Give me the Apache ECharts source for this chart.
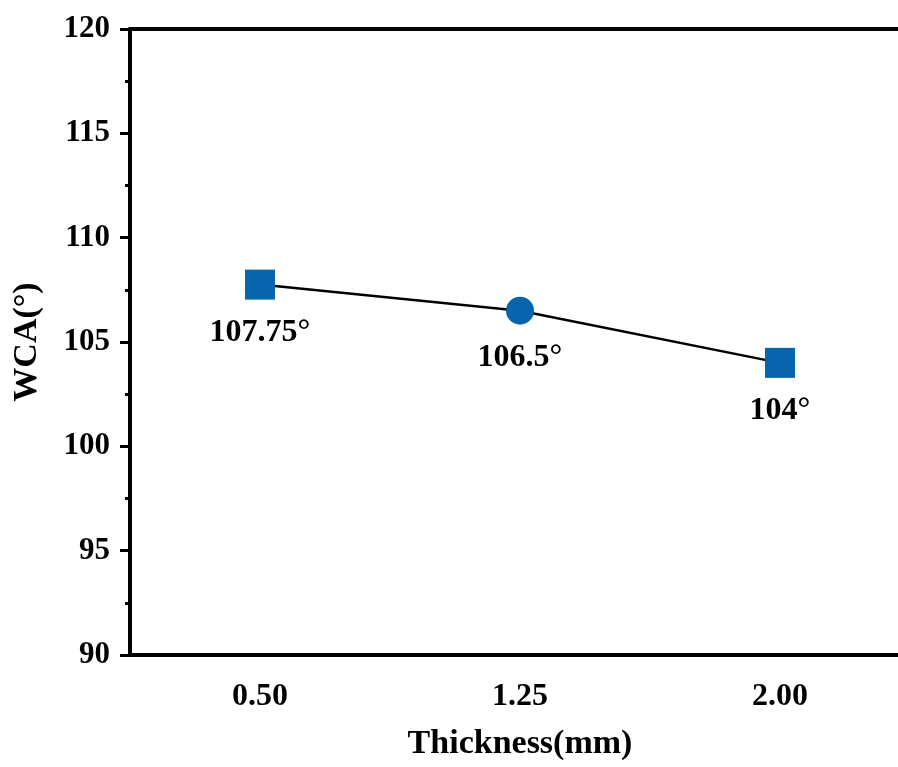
<!DOCTYPE html>
<html>
<head>
<meta charset="utf-8">
<script src="https://cdn.jsdelivr.net/npm/echarts@6/dist/echarts.min.js"></script>
<style>
  html, body { margin: 0; padding: 0; background: #fff; overflow: hidden; }
  /* 画布比窗口略宽：原图右边框被裁掉 */
  #chart { width: 910px; height: 767px; }
</style>
</head>
<body>
<div id="chart"></div>
<script>
// 数据
const thickness = ['0.50', '1.25', '2.00'];
const wca = [107.75, 106.5, 104];
const pointSymbols = ['rect', 'circle', 'rect'];
const pointLabels = ['107.75°', '106.5°', '104°'];

const FONT = '"Liberation Serif", "Times New Roman", serif';
const BLUE = '#0765ad';

const chart = echarts.init(document.getElementById('chart'));

const seriesData = wca.map((v, i) => ({
  value: v,
  symbol: pointSymbols[i],
  symbolSize: pointSymbols[i] === 'rect' ? 30 : 28,
  label: { formatter: pointLabels[i] }
}));

const option = {
  backgroundColor: '#fff',
  animation: false,
  grid: { left: 130, right: 0, top: 29, bottom: 112 },
  xAxis: [
    {
      type: 'category',
      data: thickness,
      boundaryGap: true,
      name: 'Thickness(mm)',
      nameLocation: 'middle',
      nameGap: 72,
      nameTextStyle: { fontFamily: FONT, fontWeight: 'bold', fontSize: 34, color: '#000' },
      axisLine: { lineStyle: { color: '#000', width: 4 } },
      axisTick: { alignWithLabel: true, length: 11, lineStyle: { width: 3, color: '#000' } },
      axisLabel: { fontFamily: FONT, fontWeight: 'bold', fontSize: 32, color: '#000', margin: 26 },
      splitLine: { show: false }
    },
    {
      type: 'category',
      data: thickness,
      position: 'top',
      axisLine: { lineStyle: { color: '#000', width: 4 } },
      axisTick: { show: false },
      axisLabel: { show: false }
    }
  ],
  yAxis: {
    type: 'value',
    min: 90,
    max: 120,
    interval: 5,
    name: 'WCA(°)',
    nameLocation: 'middle',
    nameGap: 86,
    nameRotate: 90,
    nameTextStyle: { fontFamily: FONT, fontWeight: 'bold', fontSize: 34, color: '#000' },
    axisLine: { show: true, lineStyle: { color: '#000', width: 4 } },
    axisTick: { show: true, length: 10, lineStyle: { width: 3, color: '#000' } },
    minorTick: { show: true, splitNumber: 2, length: 5, lineStyle: { width: 3, color: '#000' } },
    axisLabel: { fontFamily: FONT, fontWeight: 'bold', fontSize: 31, color: '#000', margin: 20 },
    splitLine: { show: false }
  },
  series: [
    {
      type: 'line',
      data: seriesData,
      lineStyle: { color: '#000', width: 2.5 },
      itemStyle: { color: BLUE, borderWidth: 0 },
      label: {
        show: true,
        position: 'bottom',
        distance: 17,
        fontFamily: FONT,
        fontWeight: 'bold',
        fontSize: 32,
        color: '#000'
      }
    }
  ]
};

chart.setOption(option);
</script>
</body>
</html>
